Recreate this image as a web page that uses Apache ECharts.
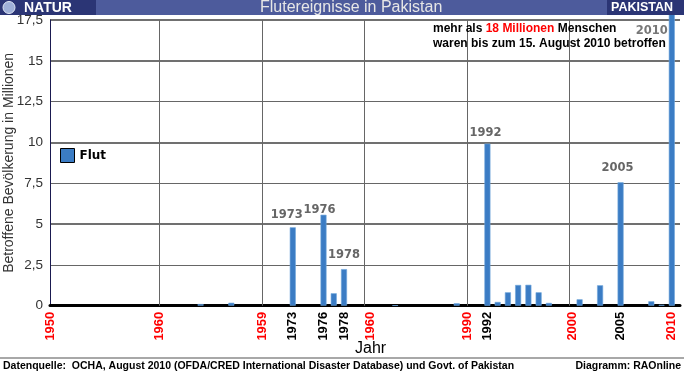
<!DOCTYPE html>
<html>
<head>
<meta charset="utf-8">
<script src="https://cdn.jsdelivr.net/npm/echarts@6/dist/echarts.min.js"></script>
<style>
html,body{margin:0;padding:0;background:#fff;}
#chart{width:684px;height:374px;}
</style>
</head>
<body>
<div id="chart"></div>
<script>
// ---- data ----
const years  = [1964, 1967, 1973, 1976, 1977, 1978, 1983, 1989, 1992, 1993, 1994, 1995, 1996, 1997, 1998, 2001, 2003, 2005, 2008, 2009, 2010];
const values = [0.10, 0.18, 4.80, 5.57, 0.76, 2.24, 0.02, 0.15, 9.93, 0.23, 0.82, 1.27, 1.28, 0.82, 0.17, 0.39, 1.25, 7.56, 0.27, 0.05, 18.0];
const labeledYears = [1973, 1976, 1978, 1992, 2005];
const peakYear = 2010;
const gridYears = [1960, 1970, 1980, 1990, 2000];
const tickValues = [1949.3, 1960, 1970, 1973, 1976, 1978, 1980.6, 1990, 1992, 2000.3, 2005, 2010];
const tickTexts  = ['1950', '1960', '1959', '1973', '1976', '1978', '1960', '1990', '1992', '2000', '2005', '2010'];
const tickRed    = [true, true, true, false, false, false, true, true, false, true, false, true];
const yTickTexts = ['0', '2,5', '5', '7,5', '10', '12,5', '15', '17,5'];
const seriesName = 'Flut';

// ---- styles (not data) ----
const labelOffsets = {1973: [-6, -1], 1976: [-4, 6], 1978: [0, -3], 1992: [-2, 0], 2005: [-3, -3]};
const ARIAL = 'Arial, "Liberation Sans", sans-serif';
const VERD = '"DejaVu Sans", Verdana, sans-serif';

const barData = years.map((y, i) => {
  const item = {value: [y, values[i]]};
  if (labeledYears.indexOf(y) >= 0) {
    item.label = {
      show: true, position: 'top', formatter: String(y),
      offset: labelOffsets[y] || [0, 0],
      color: '#666', fontWeight: 'bold', fontSize: 11.5, fontFamily: VERD
    };
  }
  return item;
});

function nearestTick(v) {
  let best = 0, d = Infinity;
  tickValues.forEach((t, i) => { const dd = Math.abs(t - v); if (dd < d) { d = dd; best = i; } });
  return best;
}

const chart = echarts.init(document.getElementById('chart'), null, {renderer: 'canvas'});
const option = {
  animation: false,
  backgroundColor: '#fff',
  grid: {left: 50, right: 4, top: 20, bottom: 68.3, containLabel: false, outerBoundsMode: 'none'},
  legend: {
    data: [seriesName], left: 60, top: 148, padding: 0,
    icon: 'rect', itemWidth: 14, itemHeight: 14, itemGap: 7,
    itemStyle: {borderColor: '#000', borderWidth: 1},
    textStyle: {fontWeight: 'bold', fontSize: 12, fontFamily: VERD, color: '#000'}
  },
  xAxis: {
    type: 'value', min: 1949.3, max: 2010.8,
    axisLine: {show: true, onZero: false, lineStyle: {color: '#000', width: 3}},
    axisTick: {show: false},
    splitLine: {show: false},
    axisLabel: {
      customValues: tickValues,
      showMinLabel: true, showMaxLabel: true,
      rotate: 90, margin: 6,
      formatter: function (v) { const i = nearestTick(v); return '{' + (tickRed[i] ? 'r' : 'k') + '|' + tickTexts[i] + '}'; },
      rich: {
        r: {color: '#ff0000', fontWeight: 'bold', fontSize: 13, fontFamily: ARIAL},
        k: {color: '#000000', fontWeight: 'bold', fontSize: 13, fontFamily: ARIAL}
      }
    }
  },
  yAxis: [{
    type: 'value', min: 0, max: 17.5, interval: 2.5,
    name: 'Betroffene Bevölkerung in Millionen', nameLocation: 'middle', nameGap: 34, nameMoveOverlap: false,
    nameTextStyle: {fontSize: 14, fontFamily: ARIAL, color: '#333'},
    axisLine: {show: true, lineStyle: {color: '#1a1a50', width: 1}},
    axisTick: {show: false},
    axisLabel: {
      margin: 7, fontSize: 13.5, fontFamily: ARIAL, color: '#333',
      formatter: function (v) { return yTickTexts[Math.round(v / 2.5)]; }
    },
    splitLine: {show: true, lineStyle: {color: '#666', width: 1}}
  }, {
    type: 'value', min: 0, max: 17.5, interval: 5,
    axisLine: {show: false}, axisTick: {show: false}, axisLabel: {show: false},
    splitLine: {show: true, lineStyle: {color: '#707070', width: 2}}
  }],
  series: [{
    name: seriesName, type: 'bar', barWidth: 6, clip: false,
    data: barData,
    itemStyle: {color: '#3b7cc4', borderColor: '#6fa6dc', borderWidth: 0.6},
    z: 3,
    markLine: {
      silent: true, symbol: ['none', 'none'], label: {show: false},
      lineStyle: {color: '#666', width: 1, type: 'solid'},
      data: gridYears.map(y => ({xAxis: y}))
    },
    markPoint: {
      symbol: 'rect', symbolSize: 1, itemStyle: {color: 'rgba(0,0,0,0)'},
      label: {show: true, formatter: String(peakYear), position: 'inside', offset: [-20, 11],
        color: '#777', fontWeight: 'bold', fontSize: 11.5, fontFamily: VERD},
      data: [{coord: [peakYear, 17.5]}]
    }
  }],
  graphic: [
    {type: 'rect', z: 100, shape: {x: 0, y: 0, width: 684, height: 15}, style: {fill: '#4d5b9c'}},
    {type: 'rect', z: 101, shape: {x: 0, y: 0, width: 96, height: 15}, style: {fill: '#2b3575'}},
    {type: 'rect', z: 101, shape: {x: 607, y: 0, width: 77, height: 15}, style: {fill: '#2b3575'}},
    {type: 'circle', z: 102, shape: {cx: 9, cy: 7.5, r: 6}, style: {fill: '#9fb0d8', stroke: '#dfe6f5', lineWidth: 1}},
    {type: 'text', z: 102, left: 24, top: 1, style: {text: 'NATUR', fill: '#fff', font: 'bold 14px ' + ARIAL, textLetterSpacing: 1}},
    {type: 'text', z: 102, left: 260, top: 0, style: {text: 'Flutereignisse in Pakistan', fill: '#e6e6e6', font: '16px ' + ARIAL}},
    {type: 'text', z: 102, left: 611, top: 1.5, style: {text: 'PAKISTAN', fill: '#fff', font: 'bold 12.5px ' + ARIAL}},
    {type: 'text', z: 50, left: 433, top: 23, style: {
      rich: {b: {font: 'bold 12px ' + ARIAL, fill: '#000'}, r: {font: 'bold 12px ' + ARIAL, fill: '#ff0000'}},
      text: '{b|mehr als }{r|18 Millionen}{b| Menschen}'}},
    {type: 'text', z: 50, left: 433, top: 38, style: {text: 'waren bis zum 15. August 2010 betroffen', fill: '#000', font: 'bold 12px ' + ARIAL}},
    {type: 'text', z: 50, left: 355, top: 341, style: {text: 'Jahr', fill: '#000', font: '16px ' + ARIAL}},
    {type: 'line', z: 50, shape: {x1: 0, y1: 358, x2: 684, y2: 358}, style: {stroke: '#a8a8a8', lineWidth: 2}},
    {type: 'text', z: 50, left: 3, top: 361, style: {text: 'Datenquelle:  OCHA, August 2010 (OFDA/CRED International Disaster Database) und Govt. of Pakistan', fill: '#000', font: 'bold 10.5px ' + ARIAL}},
    {type: 'text', z: 50, right: 3, top: 361, style: {text: 'Diagramm: RAOnline', fill: '#000', font: 'bold 10.5px ' + ARIAL}}
  ]
};
chart.setOption(option);
</script>
</body>
</html>
